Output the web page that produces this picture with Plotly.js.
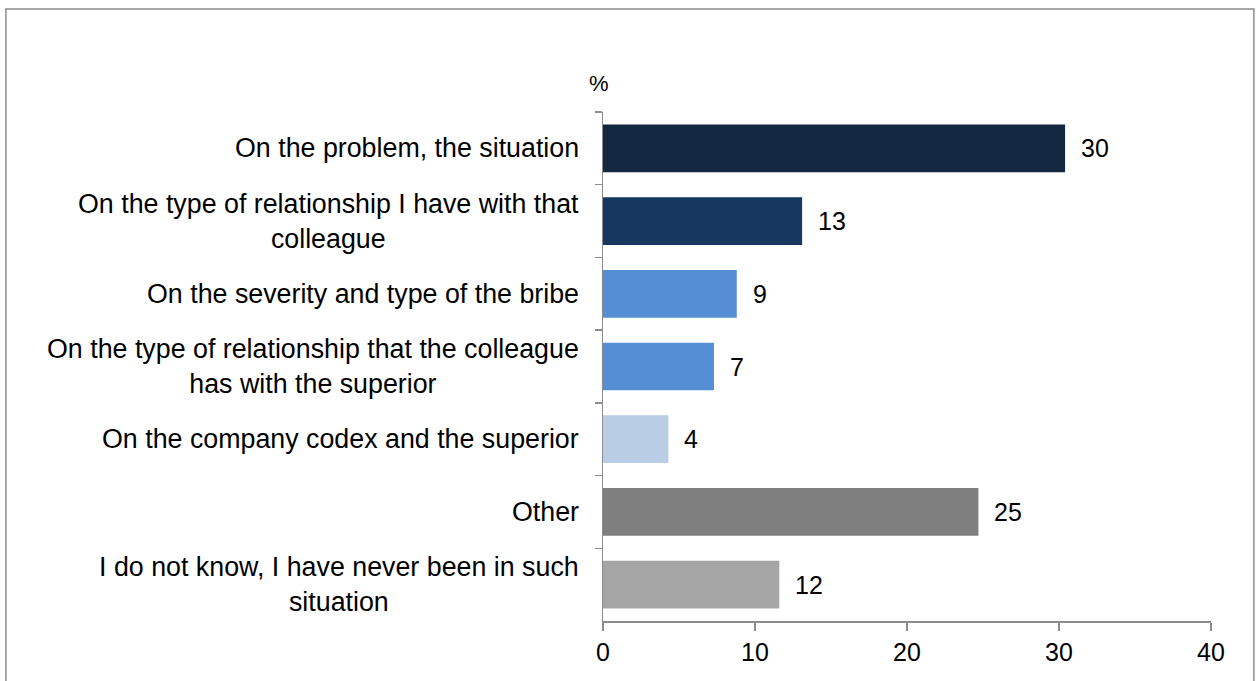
<!DOCTYPE html>
<html>
<head>
<meta charset="utf-8">
<script src="https://cdn.plot.ly/plotly-3.0.1.min.js"></script>
<style>
html,body{margin:0;padding:0;background:#fff;}
#chart{width:1257px;height:681px;}
</style>
</head>
<body>
<div id="chart"></div>
<script>
// Data
const categories = [
  "On the problem, the situation",
  "On the type of relationship I have with that<br>colleague",
  "On the severity and type of the bribe",
  "On the type of relationship that the colleague<br>has with the superior",
  "On the company codex and the superior",
  "Other",
  "I do not know, I have never been in such<br>situation"
];
const values = [30.4, 13.1, 8.8, 7.3, 4.3, 24.7, 11.6];
const valueLabels = ["30", "13", "9", "7", "4", "25", "12"];
const barColors = ["#132741", "#18375F", "#558ED5", "#558ED5", "#B9CDE5", "#7F7F7F", "#A5A5A5"];
const xTicks = [0, 10, 20, 30, 40];
const unitLabel = "%";

const FONT = "Liberation Sans, Arial, sans-serif";
const LABEL_SIZE = 26.8;
const NUM_SIZE = 25;

const trace = {
  type: "bar",
  orientation: "h",
  y: categories,
  x: values,
  marker: {color: barColors},
  hoverinfo: "skip"
};

const annotations = [];
categories.forEach(function(cat) {
  annotations.push({
    xref: "paper", yref: "y",
    x: 0, y: cat,
    xanchor: "right", yanchor: "middle",
    xshift: -22,
    text: cat,
    align: "center",
    showarrow: false,
    font: {family: FONT, size: LABEL_SIZE, color: "#000"}
  });
});
values.forEach(function(v, i) {
  annotations.push({
    xref: "x", yref: "y",
    x: v, y: categories[i],
    xanchor: "left", yanchor: "middle",
    xshift: 14,
    text: valueLabels[i],
    showarrow: false,
    font: {family: FONT, size: NUM_SIZE, color: "#000"}
  });
});
annotations.push({
  xref: "paper", yref: "paper",
  x: 0, y: 1,
  xanchor: "center", yanchor: "bottom",
  xshift: -4, yshift: 14,
  text: unitLabel,
  showarrow: false,
  font: {family: FONT, size: 22, color: "#000"}
});

const layout = {
  width: 1257,
  height: 681,
  margin: {l: 603, r: 46, t: 112, b: 60, pad: 0},
  paper_bgcolor: "#fff",
  plot_bgcolor: "#fff",
  showlegend: false,
  bargap: 0.344,
  font: {family: FONT, size: NUM_SIZE, color: "#000"},
  xaxis: {
    range: [0, 40],
    tickvals: xTicks,
    ticktext: xTicks.map(String),
    ticks: "outside",
    ticklen: 8,
    tickwidth: 1.5,
    tickcolor: "#8c8c8c",
    showline: true,
    linecolor: "#8c8c8c",
    linewidth: 1.5,
    showgrid: false,
    zeroline: false,
    tickfont: {family: FONT, size: NUM_SIZE, color: "#000"},
    fixedrange: true
  },
  yaxis: {
    type: "category",
    categoryorder: "array",
    categoryarray: categories,
    autorange: "reversed",
    showticklabels: false,
    ticks: "outside",
    tickson: "boundaries",
    ticklen: 7,
    tickwidth: 1.5,
    tickcolor: "#8c8c8c",
    showline: true,
    linecolor: "#8c8c8c",
    linewidth: 1.5,
    showgrid: false,
    zeroline: false,
    fixedrange: true
  },
  shapes: [{
    type: "rect",
    xref: "paper", yref: "paper",
    x0: -0.982, x1: 1.0705, y0: -0.3, y1: 1.2024,
    line: {color: "#8c8c8c", width: 1.5},
    fillcolor: "rgba(0,0,0,0)",
    layer: "below"
  }],
  annotations: annotations
};

Plotly.newPlot("chart", [trace], layout, {displayModeBar: false, staticPlot: true});
</script>
</body>
</html>
